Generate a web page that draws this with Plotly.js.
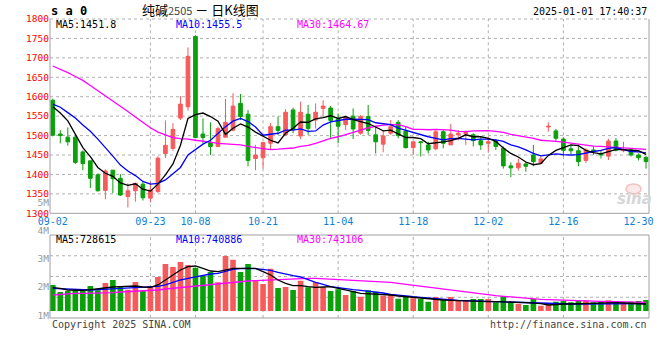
<!DOCTYPE html>
<html><head><meta charset="utf-8">
<script src="https://cdn.plot.ly/plotly-3.0.1.min.js"></script>
<style>html,body{margin:0;padding:0;background:#fff;}#chart{width:660px;height:360px;}</style>
</head><body><div id="chart"></div>
<script>
const dates = ['09-02','09-03','09-04','09-05','09-06','09-09','09-10','09-11','09-12','09-13',
'09-18','09-19','09-20','09-23','09-24','09-25','09-26','09-27','09-30','10-08',
'10-09','10-10','10-11','10-14','10-15','10-16','10-17','10-18','10-21','10-22',
'10-23','10-24','10-25','10-28','10-29','10-30','10-31','11-01','11-04','11-05',
'11-06','11-07','11-08','11-11','11-12','11-13','11-14','11-15','11-18','11-19',
'11-20','11-21','11-22','11-25','11-26','11-27','11-28','11-29','12-02','12-03',
'12-04','12-05','12-06','12-09','12-10','12-11','12-12','12-13','12-16','12-17',
'12-18','12-19','12-20','12-23','12-24','12-25','12-26','12-27','12-30','12-31'];

const open = [1591,1504,1496,1496,1458,1435,1399,1359,1411,1390,
1343,1358,1375,1339,1356,1454,1467,1545,1574,1755,
1504,1482,1472,1496,1514,1583,1555,1441,1443,1480,
1523,1502,1566,1499,1555,1540,1570,1571,1543,1528,
1550,1506,1549,1502,1478,1506,1534,1511,1469,1484,
1476,1466,1510,1476,1502,1504,1502,1487,1480,1486,
1467,1422,1417,1427,1450,1429,1522,1512,1491,1466,
1461,1436,1463,1454,1447,1486,1461,1463,1450,1444];
const high = [1595,1514,1521,1501,1462,1435,1403,1413,1411,1401,
1377,1379,1381,1381,1447,1539,1532,1602,1727,1758,
1544,1534,1523,1594,1609,1607,1566,1476,1484,1532,
1549,1568,1572,1587,1579,1583,1591,1576,1557,1550,
1570,1553,1579,1523,1514,1540,1540,1523,1484,1486,
1484,1514,1514,1530,1514,1513,1506,1499,1498,1488,
1472,1431,1441,1433,1476,1447,1534,1517,1496,1476,
1472,1467,1472,1463,1492,1494,1484,1467,1454,1447];
const low = [1498,1480,1474,1427,1411,1365,1356,1336,1352,1345,
1315,1330,1333,1328,1352,1442,1461,1540,1564,1495,
1480,1450,1470,1494,1511,1540,1421,1411,1415,1463,
1502,1499,1506,1491,1502,1518,1549,1493,1480,1514,
1491,1502,1502,1454,1457,1502,1493,1467,1450,1446,
1454,1462,1467,1476,1488,1476,1472,1463,1459,1463,
1415,1393,1410,1407,1421,1429,1510,1486,1446,1452,
1421,1429,1450,1441,1437,1459,1457,1446,1436,1415];
const close = [1501,1500,1484,1431,1428,1390,1358,1409,1389,1347,
1358,1377,1340,1360,1442,1475,1516,1581,1704,1495,
1495,1472,1518,1534,1576,1549,1436,1450,1482,1523,
1513,1560,1516,1560,1518,1560,1576,1539,1524,1547,
1517,1549,1513,1484,1499,1523,1500,1469,1484,1482,
1463,1510,1480,1504,1506,1508,1487,1476,1484,1472,
1422,1417,1429,1421,1433,1440,1524,1493,1462,1461,
1433,1463,1459,1450,1486,1463,1463,1450,1443,1433];

const ma5 = [1574,1558,1538,1504,1469,1446,1418,1403,1395,1378,
1372,1376,1362,1357,1375,1399,1427,1475,1544,1554,
1558,1549,1537,1503,1519,1530,1522,1509,1499,1488,
1481,1506,1519,1535,1534,1543,1546,1551,1544,1549,
1541,1536,1531,1522,1512,1514,1504,1495,1495,1492,
1479,1481,1484,1487,1493,1502,1497,1497,1493,1485,
1468,1454,1445,1432,1425,1428,1449,1462,1470,1476,
1474,1462,1456,1453,1459,1464,1464,1463,1461,1451.8];
const ma10 = [1581,1573,1559,1545,1527,1511,1491,1470,1447,1424,
1409,1397,1382,1375,1377,1386,1401,1418,1450,1465,
1478,1488,1506,1523,1537,1544,1536,1522,1501,1504,
1506,1514,1514,1517,1511,1512,1527,1535,1539,1542,
1542,1541,1541,1533,1531,1528,1519,1513,1509,1502,
1497,1493,1489,1492,1493,1491,1489,1491,1491,1489,
1485,1476,1471,1463,1454,1448,1451,1453,1451,1450,
1451,1456,1459,1462,1467,1469,1463,1459,1458,1455.5];
const ma30 = [1679,1671,1662,1652,1642,1629,1616,1602,1588,1575,
1562,1548,1534,1520,1509,1501,1495,1492,1491,1488,
1486,1483,1480,1479,1478,1476,1472,1469,1466,1464,
1465,1467,1468,1472,1475,1480,1487,1493,1497,1503,
1509,1514,1520,1524,1527,1528,1528,1523,1516,1516,
1515,1516,1515,1514,1511,1510,1512,1512,1513,1511,
1508,1503,1500,1496,1493,1488,1487,1485,1483,1480,
1478,1475,1473,1472,1471,1469,1468,1468,1466,1464.67];

// volume, millions (as drawn on the volume scale)
const vol = [2.071,1.823,1.858,1.894,1.869,2.035,1.883,2.142,2.248,2.011,
1.904,2.177,1.869,2.035,2.355,2.816,2.709,2.887,2.780,2.684,
2.401,2.532,2.167,3.099,2.968,2.532,2.816,2.238,2.106,2.649,
1.965,2.000,1.894,2.223,1.989,2.167,1.989,1.858,1.918,1.716,
1.858,1.656,1.883,1.833,1.691,1.716,1.585,1.691,1.599,1.574,
1.479,1.645,1.539,1.645,1.504,1.504,1.574,1.574,1.574,1.457,
1.670,1.479,1.408,1.362,1.574,1.337,1.387,1.479,1.504,1.457,
1.504,1.528,1.457,1.479,1.528,1.504,1.457,1.479,1.504,1.539];
const volMa5 = [1.975,1.954,1.894,1.883,1.883,1.904,1.940,1.975,2.000,2.011,
2.025,2.035,2.000,1.989,2.071,2.248,2.426,2.603,2.720,2.745,
2.663,2.567,2.543,2.603,2.663,2.663,2.663,2.663,2.543,2.426,
2.248,2.131,2.046,2.046,2.011,1.989,2.000,2.011,1.954,1.883,
1.833,1.777,1.762,1.752,1.741,1.716,1.681,1.656,1.621,1.599,
1.574,1.550,1.539,1.528,1.514,1.504,1.493,1.479,1.479,1.479,
1.479,1.468,1.457,1.443,1.433,1.408,1.362,1.387,1.397,1.397,
1.408,1.422,1.433,1.443,1.443,1.443,1.433,1.422,1.408,1.397];
const volMa10 = [1.954,1.940,1.918,1.904,1.894,1.894,1.904,1.918,1.940,1.954,
1.965,1.975,1.989,2.000,2.025,2.071,2.167,2.248,2.309,2.365,
2.426,2.461,2.486,2.567,2.628,2.649,2.663,2.649,2.628,2.592,
2.521,2.450,2.401,2.355,2.248,2.167,2.096,2.011,1.975,1.929,
1.904,1.883,1.858,1.833,1.787,1.741,1.706,1.681,1.656,1.635,
1.610,1.585,1.564,1.539,1.528,1.514,1.504,1.493,1.493,1.479,
1.479,1.468,1.457,1.443,1.433,1.422,1.408,1.397,1.397,1.397,
1.397,1.397,1.408,1.408,1.422,1.422,1.422,1.422,1.422,1.408];
const volMa30 = [1.716,1.741,1.762,1.777,1.777,1.777,1.777,1.787,1.798,1.823,
1.833,1.848,1.858,1.869,1.894,1.929,1.954,1.989,2.025,2.046,
2.071,2.096,2.117,2.142,2.167,2.188,2.213,2.223,2.238,2.248,
2.259,2.273,2.284,2.294,2.309,2.309,2.294,2.284,2.273,2.259,
2.248,2.238,2.223,2.213,2.188,2.167,2.131,2.096,2.060,2.025,
1.989,1.954,1.918,1.883,1.848,1.812,1.777,1.752,1.716,1.691,
1.670,1.645,1.621,1.599,1.574,1.564,1.550,1.539,1.528,1.514,
1.504,1.504,1.493,1.493,1.479,1.479,1.468,1.468,1.457,1.457];
const volBase = 1.149;

const priceTicks = [1300,1350,1400,1450,1500,1550,1600,1650,1700,1750,1800];
const volTicks = [1,2,3,4,5];
const volTickText = ['1M','2M','3M','4M','5M'];
const dateTicks = ['09-02','09-23','10-08','10-21','11-04','11-18','12-02','12-16','12-30'];
const gridDates = ['09-23','10-08','10-21','11-04','11-18','12-02','12-16'];

const RED = '#f65b5b', GREEN = '#0aa00a', BLUE_T = '#0d7fd6';
const GRID = '#b0b0b0', FRAME = '#a0a0a0';
const MONO = 'DejaVu Sans Mono';

const W = 660, H = 360, L = 50, R = 11, T = 15, B = 42;
const PW = W - L - R, PH = H - T - B;
const px = x => (x - L) / PW;
const py = y => (H - B - y) / PH;

const traces = [
  {type:'candlestick', x:dates, open:open, high:high, low:low, close:close,
   xaxis:'x', yaxis:'y', whiskerwidth:0,
   increasing:{line:{color:RED, width:1}, fillcolor:RED},
   decreasing:{line:{color:GREEN, width:1}, fillcolor:GREEN}},
  {type:'scatter', mode:'lines', x:dates, y:ma30, xaxis:'x', yaxis:'y', line:{color:'#ff00ff', width:1.3}},
  {type:'scatter', mode:'lines', x:dates, y:ma10, xaxis:'x', yaxis:'y', line:{color:'#0000ff', width:1.3}},
  {type:'scatter', mode:'lines', x:dates, y:ma5, xaxis:'x', yaxis:'y', line:{color:'#000000', width:1.3}},
  {type:'bar', x:dates, y:vol.map(v => v - volBase), base:volBase, width:0.75,
   xaxis:'x2', yaxis:'y2',
   marker:{color: close.map((c,i) => c >= open[i] ? RED : GREEN), line:{width:0}}},
  {type:'scatter', mode:'lines', x:dates, y:volMa30, xaxis:'x2', yaxis:'y2', line:{color:'#ff00ff', width:1.3}},
  {type:'scatter', mode:'lines', x:dates, y:volMa10, xaxis:'x2', yaxis:'y2', line:{color:'#0000ff', width:1.3}},
  {type:'scatter', mode:'lines', x:dates, y:volMa5, xaxis:'x2', yaxis:'y2', line:{color:'#000000', width:1.3}}
];

const xRange = [-0.373, 79.40];
const shapes = [];
priceTicks.filter(v => v > 1300 && v < 1800).forEach(v => shapes.push({
  type:'line', xref:'paper', x0:0, x1:1, yref:'y', y0:v, y1:v, layer:'below',
  line:{color:GRID, width:1, dash:'dot'}}));
gridDates.forEach(d => {
  shapes.push({type:'line', xref:'x', x0:d, x1:d, yref:'paper', y0:py(213.3), y1:py(19), layer:'below', line:{color:GRID, width:1, dash:'dot'}});
  shapes.push({type:'line', xref:'x', x0:d, x1:d, yref:'paper', y0:py(318), y1:py(235), layer:'below', line:{color:GRID, width:1, dash:'dot'}});
});
[0.25, 0.5, 0.75].forEach(f => {
  const y = 235 + f * (318 - 235);
  shapes.push({type:'line', xref:'paper', x0:0, x1:1, yref:'paper', y0:py(y), y1:py(y), layer:'below', line:{color:GRID, width:1, dash:'dot'}});
});
const seg = (x0,y0,x1,y1,dash) => shapes.push({type:'line', xref:'paper', yref:'paper',
  x0:px(x0), x1:px(x1), y0:py(y0), y1:py(y1), layer:'above', line:{color: dash ? GRID : FRAME, width:1, dash: dash ? 'dot' : 'solid'}});
seg(50,19,649,19,true);
seg(50,19,50,213.3);
seg(649,19,649,213.3);
seg(50,213.3,649,213.3);
seg(50,235,649,235);
seg(50,235,50,318);
seg(649,235,649,318);
seg(50,318,649,318);
shapes.push({type:'circle', xref:'paper', yref:'paper', x0:px(626), x1:px(641), y0:py(194), y1:py(184), layer:'below',
  line:{color:'#f3c0c0', width:1.5}, fillcolor:'rgba(243,192,192,0.35)'});

const ann = (x, y, text, opts) => Object.assign({xref:'paper', yref:'paper', x:px(x), y:py(y), text:text,
  showarrow:false, xanchor:'left', yanchor:'middle', font:{family:MONO, size:10, color:'#000'}}, opts || {});

const annotations = [
  ann(49, 11, '<b>s a 0</b>', {font:{family:MONO, size:12, color:'#000'}}),
  ann(200, 10, '纯碱<span style="font-size:11px;color:#444">2505</span> － 日K线图',
      {xanchor:'center', font:{family:'Noto Sans CJK SC', size:13, color:'#000'}}),
  ann(649, 11.5, '2025-01-01 17:40:37', {xanchor:'right'}),
  ann(54, 24, 'MA5:1451.8', {font:{family:MONO, size:10, color:'#000'}}),
  ann(174, 24, 'MA10:1455.5', {font:{family:MONO, size:10, color:'#0000ff'}}),
  ann(295, 24, 'MA30:1464.67', {font:{family:MONO, size:10, color:'#ff00ff'}}),
  ann(54, 239.5, 'MA5:728615', {font:{family:MONO, size:10, color:'#000'}}),
  ann(174, 239.5, 'MA10:740886', {font:{family:MONO, size:10, color:'#0000ff'}}),
  ann(295, 239.5, 'MA30:743106', {font:{family:MONO, size:10, color:'#ff00ff'}}),
  ann(50, 324, 'Copyright 2025 SINA.COM', {font:{family:MONO, size:10, color:'#444'}}),
  ann(649, 324, 'http://finance.sina.com.cn', {xanchor:'right', font:{family:MONO, size:10, color:'#444'}}),
  ann(634, 199, '<b><i>sina</i></b>', {xanchor:'center', font:{family:'DejaVu Sans', size:15, color:'#d6d6d6'}})
];

const layout = {
  width:W, height:H, margin:{l:L, r:R, t:T, b:B, pad:0},
  paper_bgcolor:'#fff', plot_bgcolor:'rgba(0,0,0,0)', showlegend:false, hovermode:false,
  xaxis:{type:'category', domain:[0,1], anchor:'y', range:xRange, tickmode:'array',
    tickvals:dateTicks, ticktext:dateTicks, tickfont:{family:MONO, size:10, color:BLUE_T},
    ticklabelstandoff:1,
    showgrid:false, zeroline:false, showline:false, ticks:'', rangeslider:{visible:false}, fixedrange:true},
  yaxis:{domain:[py(213.3), py(19)], range:[1300,1800], tickmode:'array', tickvals:priceTicks,
    tickfont:{family:MONO, size:9.5, color:'#ff0000'}, ticklabelshift:-2.5,
    showgrid:false, zeroline:false, showline:false, ticks:'', fixedrange:true},
  xaxis2:{type:'category', domain:[0,1], anchor:'y2', range:xRange, showticklabels:false,
    showgrid:false, zeroline:false, showline:false, ticks:'', fixedrange:true},
  yaxis2:{domain:[py(316.6), py(201.0)], range:[0.95,5.05], tickmode:'array', tickvals:volTicks, ticktext:volTickText,
    tickfont:{family:MONO, size:9.5, color:'#999'}, ticklabelshift:0,
    showgrid:false, zeroline:false, showline:false, ticks:'', fixedrange:true},
  shapes:shapes, annotations:annotations
};

Plotly.newPlot('chart', traces, layout, {staticPlot:true, displayModeBar:false});
</script>
</body></html>
